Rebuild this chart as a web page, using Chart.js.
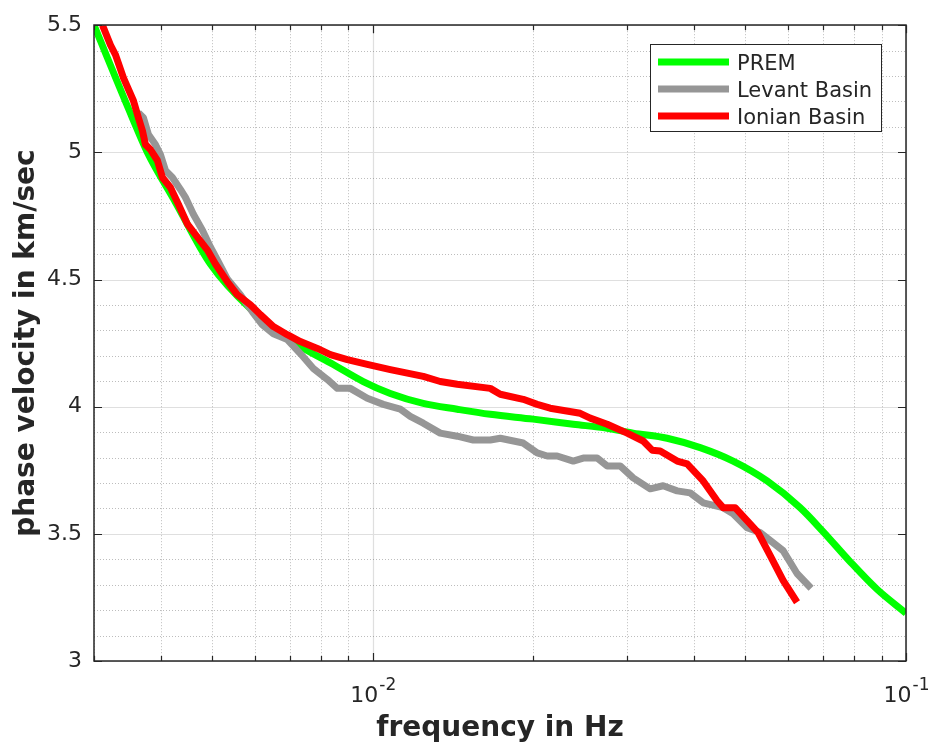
<!DOCTYPE html>
<html>
<head>
<meta charset="utf-8">
<script src="https://cdn.jsdelivr.net/npm/chart.js@4/dist/chart.umd.min.js"></script>
<style>
  html, body { margin: 0; padding: 0; background: #ffffff; }
  #c { display: block; }
</style>
</head>
<body>
<canvas id="c" width="931" height="743"></canvas>
<script>
// Rayleigh-wave phase velocity dispersion curves (km/s vs Hz)
const PREM_FREQ = [0.003, 0.00354, 0.003778, 0.004264, 0.004959, 0.005894, 0.007219, 0.008433, 0.009598,
  0.010785, 0.012434, 0.014398, 0.016606, 0.019994, 0.023761, 0.027516, 0.03078, 0.035645, 0.041115,
  0.047395, 0.054888, 0.063291, 0.069891, 0.078524, 0.088238, 0.1];
const PREM_VEL = [5.5, 5.136, 5.0, 4.804, 4.561, 4.385, 4.244, 4.166, 4.099,
  4.052, 4.013, 3.990, 3.970, 3.951, 3.931, 3.915, 3.896, 3.876, 3.839,
  3.786, 3.708, 3.603, 3.509, 3.391, 3.282, 3.188];

const LEVANT_FREQ = [0.003634, 0.003714, 0.003795, 0.003911, 0.003997, 0.004084, 0.004209, 0.004357, 0.004452,
  0.004608, 0.004791, 0.004959, 0.005111, 0.005337, 0.005645, 0.005945, 0.006207, 0.006509, 0.006913,
  0.007313, 0.007735, 0.008217, 0.00858, 0.009075, 0.009765, 0.010464, 0.01126, 0.011757, 0.012436,
  0.013381, 0.0144, 0.015431, 0.016607, 0.017339, 0.019148, 0.020338, 0.021234, 0.022171, 0.023761,
  0.024808, 0.026353, 0.027516, 0.029101, 0.03078, 0.033125, 0.035037, 0.037223, 0.039372, 0.041646,
  0.045393, 0.047394, 0.050347, 0.053253, 0.05881, 0.062464, 0.066378];
const LEVANT_VEL = [5.156, 5.136, 5.070, 5.031, 4.991, 4.929, 4.901, 4.854, 4.823,
  4.757, 4.694, 4.628, 4.577, 4.502, 4.440, 4.373, 4.322, 4.287, 4.264,
  4.209, 4.150, 4.107, 4.072, 4.072, 4.033, 4.009, 3.990, 3.962, 3.935,
  3.896, 3.884, 3.869, 3.869, 3.876, 3.857, 3.818, 3.806, 3.806, 3.786,
  3.798, 3.798, 3.767, 3.767, 3.720, 3.677, 3.689, 3.669, 3.661, 3.622,
  3.603, 3.579, 3.524, 3.505, 3.434, 3.344, 3.286];

const IONIAN_FREQ = [0.003112, 0.003221, 0.003292, 0.003407, 0.003557, 0.003634, 0.003698, 0.003746, 0.003828,
  0.003945, 0.004031, 0.004173, 0.004319, 0.004491, 0.004689, 0.004896, 0.005068, 0.005337, 0.005572,
  0.005894, 0.006155, 0.006509, 0.006913, 0.007313, 0.00787, 0.008324, 0.008959, 0.009765, 0.010784,
  0.012436, 0.013381, 0.0144, 0.016607, 0.017339, 0.019148, 0.020338, 0.021511, 0.024487, 0.025568,
  0.027516, 0.029992, 0.032139, 0.033412, 0.034586, 0.037223, 0.038865, 0.041646, 0.044232, 0.045393,
  0.047806, 0.050347, 0.052795, 0.0556, 0.05881, 0.062464];
const IONIAN_VEL = [5.5, 5.422, 5.383, 5.293, 5.203, 5.136, 5.085, 5.031, 5.011,
  4.968, 4.901, 4.862, 4.796, 4.718, 4.667, 4.616, 4.561, 4.491, 4.440,
  4.401, 4.362, 4.315, 4.283, 4.256, 4.229, 4.205, 4.185, 4.166, 4.146,
  4.119, 4.099, 4.088, 4.072, 4.049, 4.029, 4.009, 3.994, 3.974, 3.955,
  3.931, 3.896, 3.865, 3.829, 3.826, 3.786, 3.775, 3.708, 3.630, 3.603,
  3.603, 3.552, 3.505, 3.415, 3.317, 3.231];

const SERIES_NAMES = ['PREM', 'Levant Basin', 'Ionian Basin'];
const SERIES_COLORS = ['#00ff00', '#969696', '#ff0000'];

// Axis ticks and grid positions
const Y_TICKS = [3, 3.5, 4, 4.5, 5, 5.5];
const Y_MINOR = [3.1, 3.2, 3.3, 3.4, 3.6, 3.7, 3.8, 3.9, 4.1, 4.2, 4.3, 4.4, 4.6, 4.7, 4.8, 4.9, 5.1, 5.2, 5.3, 5.4];
const X_MINOR = [0.003, 0.004, 0.005, 0.006, 0.007, 0.008, 0.009, 0.02, 0.03, 0.04, 0.05, 0.06, 0.07, 0.08, 0.09];
const X_MAJOR = [0.01, 0.1];
const X_LABEL_EXP = ['-2', '-1'];

const X_TITLE = 'frequency in Hz';
const Y_TITLE = 'phase velocity in km/sec';

const FONT = '"DejaVu Sans", "Liberation Sans", sans-serif';
const INK = '#262626';

function pairs(xs, ys) { return xs.map((v, i) => ({ x: v, y: ys[i] })); }

const axesDecor = {
  id: 'axesDecor',
  beforeDatasetsDraw(chart) {
    const { ctx, chartArea: a, scales: { x, y } } = chart;
    ctx.save();
    ctx.lineWidth = 1;
    // dotted minor grid
    ctx.strokeStyle = 'rgba(38,38,38,0.3)';
    ctx.setLineDash([1, 2]);
    ctx.beginPath();
    X_MINOR.forEach(v => {
      const px = Math.round(x.getPixelForValue(v)) + 0.5;
      ctx.moveTo(px, a.top); ctx.lineTo(px, a.bottom);
    });
    Y_MINOR.forEach(v => {
      const py = Math.round(y.getPixelForValue(v)) + 0.5;
      ctx.moveTo(a.left, py); ctx.lineTo(a.right, py);
    });
    ctx.stroke();
    // solid major grid
    ctx.setLineDash([]);
    ctx.strokeStyle = 'rgba(38,38,38,0.15)';
    ctx.lineWidth = 1.2;
    ctx.beginPath();
    X_MAJOR.forEach(v => {
      const px = Math.round(x.getPixelForValue(v)) + 0.5;
      ctx.moveTo(px, a.top); ctx.lineTo(px, a.bottom);
    });
    Y_TICKS.forEach(v => {
      const py = Math.round(y.getPixelForValue(v)) + 0.5;
      ctx.moveTo(a.left, py); ctx.lineTo(a.right, py);
    });
    ctx.stroke();
    ctx.restore();
  },
  afterDatasetsDraw(chart) {
    const { ctx, chartArea: a, scales: { x, y } } = chart;
    ctx.save();
    // axes box
    ctx.strokeStyle = INK;
    ctx.lineWidth = 1.5;
    ctx.strokeRect(Math.round(a.left), Math.round(a.top), Math.round(a.right - a.left), Math.round(a.bottom - a.top));
    // inward tick marks
    ctx.lineWidth = 1.2;
    ctx.beginPath();
    Y_TICKS.forEach(v => {
      const py = Math.round(y.getPixelForValue(v)) + 0.5;
      ctx.moveTo(a.left, py); ctx.lineTo(a.left + 8, py);
      ctx.moveTo(a.right, py); ctx.lineTo(a.right - 8, py);
    });
    X_MINOR.forEach(v => {
      const px = Math.round(x.getPixelForValue(v)) + 0.5;
      ctx.moveTo(px, a.bottom); ctx.lineTo(px, a.bottom - 5);
      ctx.moveTo(px, a.top); ctx.lineTo(px, a.top + 5);
    });
    X_MAJOR.forEach(v => {
      const px = Math.round(x.getPixelForValue(v)) + 0.5;
      ctx.moveTo(px, a.bottom); ctx.lineTo(px, a.bottom - 8);
      ctx.moveTo(px, a.top); ctx.lineTo(px, a.top + 8);
    });
    ctx.stroke();

    // x tick labels: powers of ten with superscript exponent
    ctx.fillStyle = INK;
    ctx.textBaseline = 'alphabetic';
    ctx.textAlign = 'left';
    X_MAJOR.forEach((v, i) => {
      const px = x.getPixelForValue(v);
      ctx.font = '22px ' + FONT;
      const wb = ctx.measureText('10').width;
      ctx.font = '17px ' + FONT;
      const we = ctx.measureText(X_LABEL_EXP[i]).width;
      const x0 = px - (wb + we) / 2;
      ctx.font = '22px ' + FONT;
      ctx.fillText('10', x0, a.bottom + 41);
      ctx.font = '17px ' + FONT;
      ctx.fillText(X_LABEL_EXP[i], x0 + wb + 1, a.bottom + 29);
    });

    // axis titles
    ctx.font = 'bold 28px ' + FONT;
    ctx.textAlign = 'center';
    ctx.fillText(X_TITLE, (a.left + a.right) / 2, a.bottom + 75);
    ctx.save();
    ctx.translate(34, (a.top + a.bottom) / 2);
    ctx.rotate(-Math.PI / 2);
    ctx.fillText(Y_TITLE, 0, 0);
    ctx.restore();

    // legend box in the upper right
    const lx = 650.5, ly = 44.5, lw = 231, lh = 87;
    ctx.fillStyle = '#ffffff';
    ctx.fillRect(lx, ly, lw, lh);
    ctx.strokeStyle = INK;
    ctx.lineWidth = 1;
    ctx.strokeRect(lx, ly, lw, lh);
    ctx.font = '21px ' + FONT;
    ctx.textAlign = 'left';
    SERIES_NAMES.forEach((name, i) => {
      const cy = 62 + i * 27;
      ctx.strokeStyle = SERIES_COLORS[i];
      ctx.lineWidth = 7;
      ctx.beginPath();
      ctx.moveTo(658, cy); ctx.lineTo(729, cy);
      ctx.stroke();
      ctx.fillStyle = INK;
      ctx.fillText(name, 737, cy + 7.5);
    });
    ctx.restore();
  }
};

Chart.defaults.font.family = FONT;

new Chart(document.getElementById('c'), {
  type: 'line',
  data: {
    datasets: [
      { label: SERIES_NAMES[0], data: pairs(PREM_FREQ, PREM_VEL), borderColor: SERIES_COLORS[0],
        borderWidth: 7, pointRadius: 0, cubicInterpolationMode: 'monotone', fill: false, order: 3 },
      { label: SERIES_NAMES[1], data: pairs(LEVANT_FREQ, LEVANT_VEL), borderColor: SERIES_COLORS[1],
        borderWidth: 7, pointRadius: 0, tension: 0, borderJoinStyle: 'round', fill: false, order: 2 },
      { label: SERIES_NAMES[2], data: pairs(IONIAN_FREQ, IONIAN_VEL), borderColor: SERIES_COLORS[2],
        borderWidth: 7, pointRadius: 0, tension: 0, borderJoinStyle: 'round', fill: false, order: 1 }
    ]
  },
  options: {
    responsive: false,
    animation: false,
    devicePixelRatio: 1,
    events: [],
    layout: { padding: { top: 22, right: 25, left: 0, bottom: 0 } },
    plugins: { legend: { display: false }, tooltip: { enabled: false } },
    scales: {
      x: {
        type: 'logarithmic', min: 0.003, max: 0.1,
        grid: { display: false, drawTicks: false },
        border: { display: false },
        ticks: { display: false },
        afterFit(s) { s.height = 82; }
      },
      y: {
        type: 'linear', min: 3, max: 5.5,
        grid: { display: false, drawTicks: false },
        border: { display: false },
        ticks: {
          color: INK, padding: 12, font: { size: 22, family: FONT },
          callback: v => String(v)
        },
        afterBuildTicks(s) { s.ticks = Y_TICKS.map(v => ({ value: v })); },
        afterFit(s) { s.width = 94; }
      }
    }
  },
  plugins: [axesDecor]
});
</script>
</body>
</html>
